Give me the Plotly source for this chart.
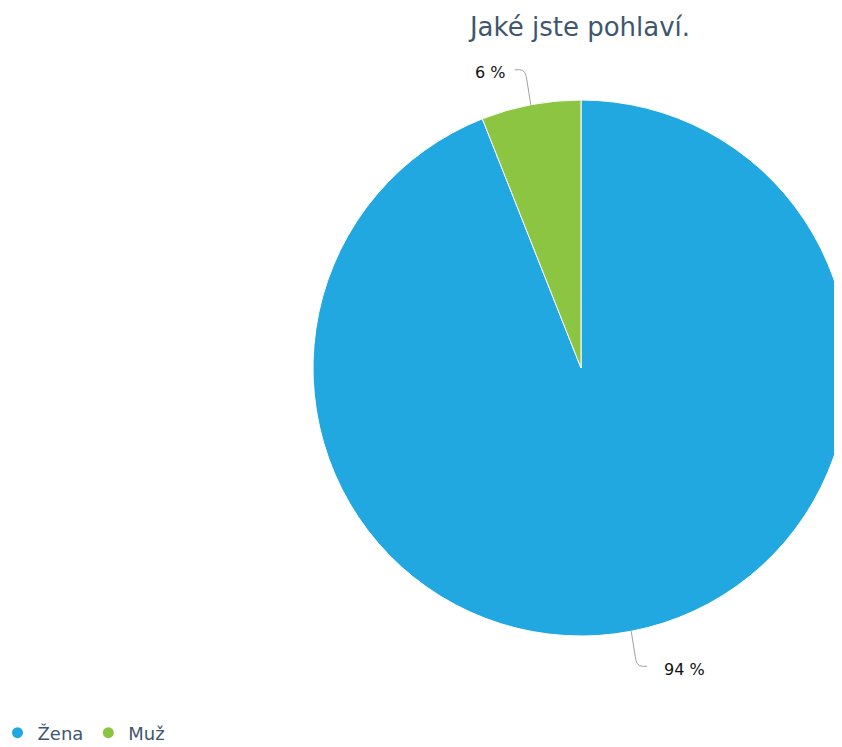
import math
import plotly.graph_objects as go

# ---- data ----
categories = ["Žena", "Muž"]
shares = [94, 6]
label_texts = ["94 %", "6 %"]
colors = ["#21a8e1", "#8bc541"]
title_text = "Jaké jste pohlaví."

W, H = 842, 747
OFF = 8  # page body margin offset (figure pixel = page pixel - OFF)

# pie box in page pixels
pie_left, pie_right = 313, 849
pie_top, pie_bottom = 100, 636


def px(x):
    return (x - OFF) / W


def py(y):
    return 1 - (y - OFF) / H


fig = go.Figure()
fig.add_trace(go.Pie(
    labels=categories, values=shares, sort=False, direction="clockwise",
    rotation=0, textinfo="none", hoverinfo="label+percent",
    marker=dict(colors=colors, line=dict(color="#ffffff", width=1)),
    domain=dict(x=[px(pie_left), px(pie_right)],
                y=[py(pie_bottom), py(pie_top)]),
    showlegend=False,
))

# legend entries with round markers
for name, col in zip(categories, colors):
    fig.add_trace(go.Scatter(x=[None], y=[None], mode="markers", name=name,
                             marker=dict(color=col, size=11, symbol="circle")))

# label positions from slice angles
cx = (pie_left + pie_right) / 2
cy = (pie_top + pie_bottom) / 2
r = (pie_right - pie_left) / 2
total = sum(shares)

shapes = []
annotations = []
start = 0.0
for val, txt in zip(shares, label_texts):
    frac = val / total
    mid = (start + frac / 2) * 2 * math.pi  # clockwise from top
    start += frac
    ex = cx + r * math.sin(mid)
    ey = cy - r * math.cos(mid)
    s = 1 if math.sin(mid) >= 0 else -1
    v = 1 if math.cos(mid) < 0 else -1  # 1 = downwards
    hy = ey + v * 35
    path = (f"M {px(ex)},{py(ey)} "
            f"L {px(ex + s*4)},{py(ey + v*25)} "
            f"Q {px(ex + s*5)},{py(hy)} {px(ex + s*11)},{py(hy)} "
            f"L {px(ex + s*16)},{py(hy)}")
    shapes.append(dict(type="path", xref="paper", yref="paper", path=path,
                       line=dict(color="#a0a0a0", width=1)))
    gap = 31 if s > 0 else 24
    annotations.append(dict(
        x=px(ex + s * gap), y=py(hy + 3), xref="paper", yref="paper",
        text=txt, showarrow=False,
        xanchor="left" if s > 0 else "right", yanchor="middle",
        font=dict(family="DejaVu Sans", size=16, color="#111111")))

fig.update_layout(
    width=W, height=H,
    margin=dict(l=0, r=0, t=0, b=0, autoexpand=False),
    paper_bgcolor="#ffffff", plot_bgcolor="#ffffff",
    title=dict(text=title_text, x=px(580), xanchor="center",
               y=py(27), yanchor="middle",
               font=dict(family="DejaVu Sans", size=26, color="#3e576f")),
    xaxis=dict(visible=False), yaxis=dict(visible=False),
    legend=dict(orientation="h", x=px(-2.5), xanchor="left", y=py(733),
                yanchor="middle",
                font=dict(family="DejaVu Sans", size=18, color="#3e576f"),
                bgcolor="rgba(0,0,0,0)", borderwidth=0),
    shapes=shapes, annotations=annotations,
)

fig.write_html("out.html")
